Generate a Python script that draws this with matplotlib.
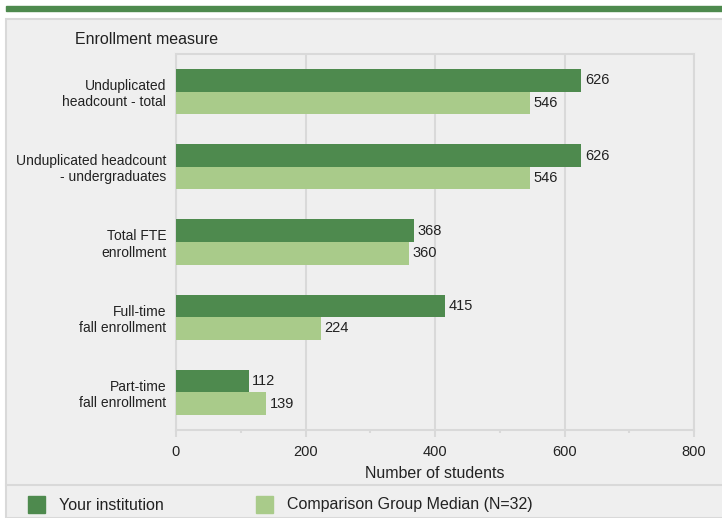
import matplotlib
matplotlib.use('Agg')
import matplotlib.pyplot as plt
from matplotlib.patches import Rectangle
import numpy as np

# --- datos ---
categorias = [
    'Unduplicated\nheadcount - total',
    'Unduplicated headcount\n- undergraduates',
    'Total FTE\nenrollment',
    'Full-time\nfall enrollment',
    'Part-time\nfall enrollment',
]
institucion = [626, 626, 368, 415, 112]
mediana = [546, 546, 360, 224, 139]
xticks = [0, 200, 400, 600, 800]
serie_nombres = ['Your institution', 'Comparison Group Median (N=32)']

OSCURO = '#4e8a4e'
CLARO = '#a9cb8a'
FONDO = '#efefef'
BORDE = '#d9d9d9'
TEXTO = '#222222'
FS_ETIQ = 10       # etiquetas del eje y
FS_NUM = 10.5      # números
FS_TIT = 11.5      # títulos y leyenda

plt.rcParams['font.family'] = ['Liberation Sans', 'DejaVu Sans']
plt.rcParams['font.size'] = FS_NUM

W, H = 722, 518
fig = plt.figure(figsize=(W / 100, H / 100), dpi=100)
fig.patch.set_facecolor('white')

def fx(px):
    return px / W

def fy(py):
    return 1 - py / H

# banda verde superior y panel gris (detrás de todo)
fig.patches.append(Rectangle((fx(6), fy(11)), fx(716), 5 / H, transform=fig.transFigure,
                             color=OSCURO, zorder=-2))
fig.patches.append(Rectangle((fx(6), fy(518)), fx(720), 499 / H, transform=fig.transFigure,
                             facecolor=FONDO, edgecolor=BORDE, linewidth=1.5, zorder=-2))
fig.lines.append(plt.Line2D([fx(6), 1], [fy(485), fy(485)], transform=fig.transFigure,
                            color=BORDE, linewidth=1.5, zorder=-1))

ax_top, ax_bot = 54, 430
ax = fig.add_axes([fx(176), fy(ax_bot), fx(694 - 176), (ax_bot - ax_top) / H])
ax.set_zorder(2)
ax.set_facecolor(FONDO)

y = np.arange(len(categorias))
h = 0.3
ax.barh(y - h / 2, institucion, height=h, color=OSCURO, zorder=3)
ax.barh(y + h / 2, mediana, height=h, color=CLARO, zorder=3)

for i in range(len(categorias)):
    ax.annotate(str(institucion[i]), (institucion[i], y[i] - h / 2), xytext=(2.5, 0),
                textcoords='offset points', va='center', ha='left', fontsize=FS_NUM, color=TEXTO)
    ax.annotate(str(mediana[i]), (mediana[i], y[i] + h / 2), xytext=(2.5, 0),
                textcoords='offset points', va='center', ha='left', fontsize=FS_NUM, color=TEXTO)

ax.set_xlim(0, 800)
ax.set_ylim(len(categorias) - 0.5, -0.5)
ax.set_xticks(xticks)
ax.set_xticks([100, 300, 500, 700], minor=True)
ax.set_yticks(y)
ax.set_yticklabels(categorias, ha='right', fontsize=FS_ETIQ, color=TEXTO)
ax.tick_params(axis='y', length=0, pad=7)
ax.tick_params(axis='x', which='major', length=5, color=BORDE, width=1.5, pad=6,
               labelcolor=TEXTO, labelsize=FS_NUM)
ax.tick_params(axis='x', which='minor', length=2.5, color=BORDE, width=1.5)
ax.grid(axis='x', color=BORDE, linewidth=1.5, zorder=0)
for s in ax.spines.values():
    s.set_color(BORDE)
    s.set_linewidth(1.5)
ax.set_xlabel('Number of students', fontsize=FS_TIT, color=TEXTO, va='center')
ax.xaxis.set_label_coords(0.5, (ax_bot - 473) / (ax_bot - ax_top))

fig.text(fx(75), fy(40), 'Enrollment measure', fontsize=FS_TIT, va='center', ha='left', color=TEXTO)

# leyenda
fig.patches.append(Rectangle((fx(28), fy(513)), 17 / W, 17 / H, transform=fig.transFigure,
                             color=OSCURO))
fig.text(fx(59), fy(505), serie_nombres[0], fontsize=FS_TIT, va='center', color=TEXTO)
fig.patches.append(Rectangle((fx(256), fy(513)), 17 / W, 17 / H, transform=fig.transFigure,
                             color=CLARO))
fig.text(fx(287), fy(505), serie_nombres[1], fontsize=FS_TIT, va='center', color=TEXTO)

fig.savefig('out.png', dpi=100, facecolor=fig.get_facecolor())
